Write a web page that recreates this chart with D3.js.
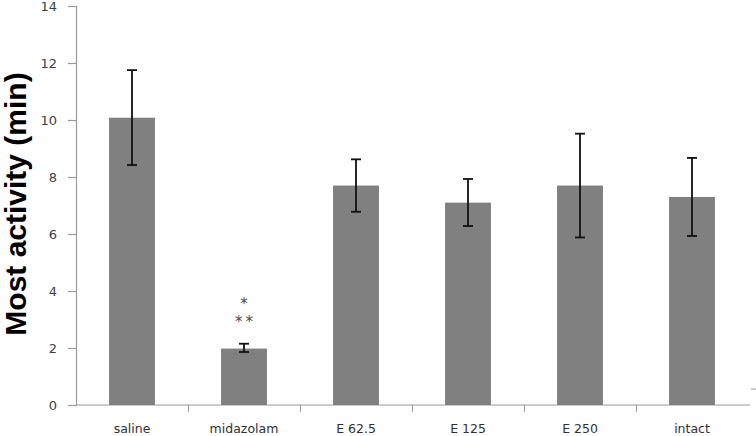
<!DOCTYPE html>
<html>
<head>
<meta charset="utf-8">
<script src="https://cdn.jsdelivr.net/npm/d3@7"></script>
<style>
  body { margin: 0; background: #fff; }
  svg { display: block; }
  .tick text { font-family: "DejaVu Sans", Verdana, sans-serif; fill: #404040; }
</style>
</head>
<body>
<div id="chart"></div>
<script>
// data
const groups = ['saline', 'midazolam', 'E 62.5', 'E 125', 'E 250', 'intact'];
const means = [10.08, 1.98, 7.7, 7.1, 7.7, 7.3];
const errHigh = [11.75, 2.15, 8.62, 7.93, 9.52, 8.67];
const errLow = [8.42, 1.86, 6.78, 6.28, 5.88, 5.93];
const yTicks = [0, 2, 4, 6, 8, 10, 12, 14];
const marks = [{group: 'midazolam', lines: ['*', '**']}];

const width = 756, height = 436;

const svg = d3.select('#chart')
  .append('svg')
  .attr('width', width)
  .attr('height', height);

const x = d3.scaleBand()
  .domain(groups)
  .range([76, 748])
  .paddingInner(0.59)
  .paddingOuter(0.295);

const y = d3.scaleLinear()
  .domain([0, 14])
  .range([405, 6]);

// y axis
const yAxis = svg.append('g')
  .attr('transform', 'translate(76,0)')
  .call(d3.axisLeft(y).tickValues(yTicks).tickSize(8).tickPadding(11));
yAxis.selectAll('line, path').attr('stroke', '#9a9a9a').attr('stroke-width', 1.2);
yAxis.selectAll('text').style('font-size', '13px');

// x axis line + category separators
svg.append('line')
  .attr('x1', 76).attr('x2', 750)
  .attr('y1', y(0)).attr('y2', y(0))
  .attr('stroke', '#9a9a9a').attr('stroke-width', 1.2);

const step = x.step();
svg.append('g')
  .selectAll('line')
  .data(groups.slice(1))
  .enter()
  .append('line')
  .attr('x1', d => x(d) - x.paddingOuter() * step + 0.5)
  .attr('x2', d => x(d) - x.paddingOuter() * step + 0.5)
  .attr('y1', y(0)).attr('y2', y(0) + 7)
  .attr('stroke', '#9a9a9a');

// stray dash at right edge
svg.append('line')
  .attr('x1', 751).attr('x2', 756)
  .attr('y1', 389).attr('y2', 389)
  .attr('stroke', '#9a9a9a');

svg.append('g')
  .selectAll('text')
  .data(groups)
  .enter()
  .append('text')
  .attr('x', d => x(d) + x.bandwidth() / 2)
  .attr('y', 433)
  .attr('text-anchor', 'middle')
  .style('font-family', '"DejaVu Sans", Verdana, sans-serif')
  .style('font-size', '12.5px')
  .attr('fill', '#303030')
  .text(d => d);

// bars
svg.append('g')
  .selectAll('rect')
  .data(groups)
  .enter()
  .append('rect')
  .attr('x', d => x(d))
  .attr('width', x.bandwidth())
  .attr('y', (d, i) => y(means[i]))
  .attr('height', (d, i) => y(0) - y(means[i]))
  .attr('fill', '#808080');

// error bars
const err = svg.append('g').attr('stroke', '#111').attr('stroke-width', 1.8);
groups.forEach(function (g, i) {
  const cx = x(g) + x.bandwidth() / 2;
  err.append('line')
    .attr('x1', cx).attr('x2', cx)
    .attr('y1', y(errHigh[i])).attr('y2', y(errLow[i]));
  [errHigh[i], errLow[i]].forEach(function (v) {
    err.append('line')
      .attr('x1', cx - 5).attr('x2', cx + 5)
      .attr('y1', y(v)).attr('y2', y(v));
  });
});

// significance marks
marks.forEach(function (m) {
  const cx = x(m.group) + x.bandwidth() / 2;
  m.lines.forEach(function (s, j) {
    svg.append('text')
      .attr('x', cx + (s.length > 1 ? 1.5 : 0))
      .attr('y', 309 + j * 18)
      .attr('text-anchor', 'middle')
      .style('font-family', '"DejaVu Sans", sans-serif')
      .style('font-size', '15px')
      .style('letter-spacing', s.length > 1 ? '3px' : '0px')
      .attr('fill', '#4a4a4a')
      .text(s);
  });
});

// y label
svg.append('text')
  .attr('transform', 'translate(26,204) rotate(-90)')
  .attr('text-anchor', 'middle')
  .style('font-family', '"Liberation Sans", Arial, sans-serif')
  .style('font-weight', 'bold')
  .style('font-size', '30px')
  .attr('fill', '#000')
  .text('Most activity  (min)');
</script>
</body>
</html>
